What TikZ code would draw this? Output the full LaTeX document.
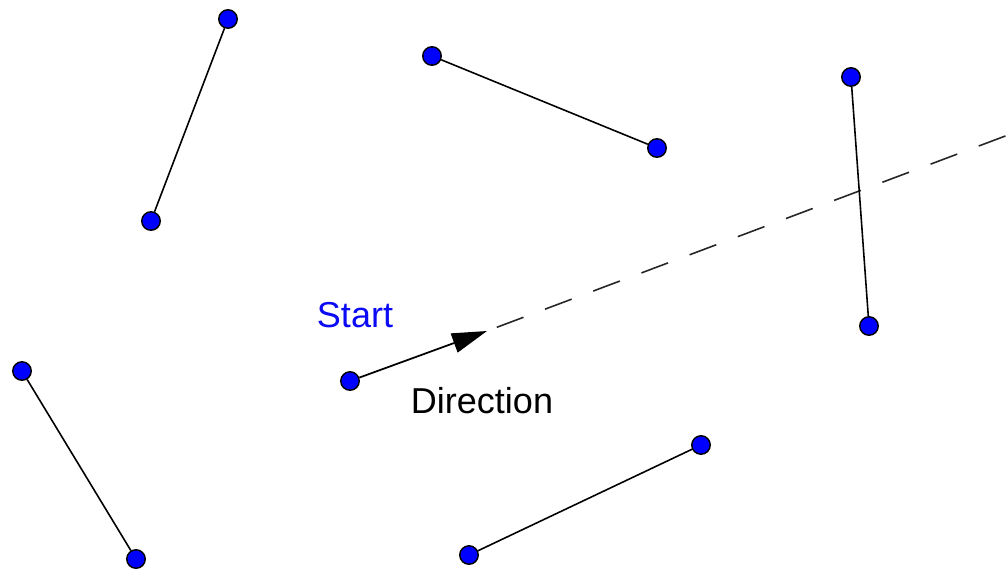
\documentclass[tikz,border=0pt]{standalone}
\usepackage{fontspec}
\setmainfont{Liberation Sans}
\usepackage{tikz}
\usetikzlibrary{arrows.meta}
\definecolor{PtBlue}{RGB}{0, 0, 255}
\definecolor{LabelBlue}{RGB}{10, 10, 245}

\begin{document}
\begin{tikzpicture}[
    x=0.02cm, y=-0.02cm,
    pt/.style={circle, draw=black, fill=PtBlue, line width=0.8pt, inner sep=0pt, minimum size=0.37cm},
    seg/.style={draw=black, line width=0.9pt},
    dirarrow/.style={-{Triangle[length=0.7cm, width=0.4cm]}, draw=black, line width=1pt},
    ray/.style={draw=black!85, line width=0.9pt, dash pattern=on 0.57cm off 0.46cm, dash phase=0.82cm},
    lbl/.style={font=\fontsize{20.5}{24}\selectfont, inner sep=0pt}
]
\useasboundingbox (0,0) rectangle (1008,569);

% segments
\node (a1) [pt] at (228,19) {};
\node (a2) [pt] at (151,221) {};
\node (b1) [pt] at (432,56) {};
\node (b2) [pt] at (657,148) {};
\node (c1) [pt] at (851,77) {};
\node (c2) [pt] at (869,326) {};
\node (d1) [pt] at (22,371) {};
\node (d2) [pt] at (136,559) {};
\node (e1) [pt] at (469,555) {};
\node (e2) [pt] at (701,445) {};

% start point and direction
\node (start) [pt] at (350,381) {};
\coordinate (dirtip) at (487,331);
\coordinate (rayend) at (1008,135);

\node (startlbl) [lbl, text=LabelBlue] at (355,315) {Start};
\node (dirlbl) [lbl] at (482,401) {Direction};

\draw [ray] (dirtip) -- (rayend);
\draw [seg] (a1) -- (a2);
\draw [seg] (b1) -- (b2);
\draw [seg] (c1) -- (c2);
\draw [seg] (d1) -- (d2);
\draw [seg] (e1) -- (e2);
\draw [dirarrow] (start) -- (dirtip);

\end{tikzpicture}
\end{document}
